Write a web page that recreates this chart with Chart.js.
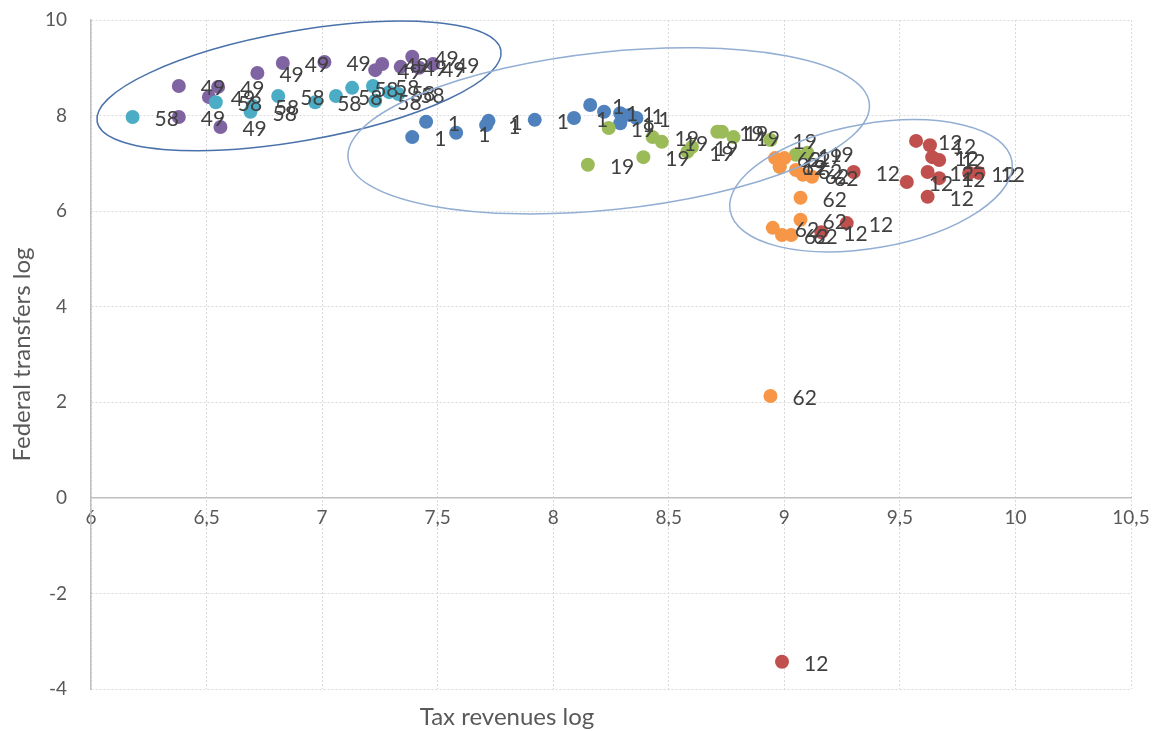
<!DOCTYPE html>
<html>
<head>
<meta charset="utf-8">
<script src="https://cdn.jsdelivr.net/npm/chart.js@4.4.1/dist/chart.umd.min.js"></script>
<style>
    html, body { margin: 0; padding: 0; background: #ffffff; }
    #wrap { width: 1153px; height: 731px; position: relative; }
</style>
</head>
<body>
<div id="wrap"><canvas id="scatterChart"></canvas></div>
<script>
// series labels, in drawing order
const seriesNames = ['1', '12', '19', '49', '58', '62'];

// tax revenues log (x) / federal transfers log (y) per series
const x1 = [7.39, 7.45, 7.58, 7.71, 7.72, 7.92, 8.09, 8.16, 8.22, 8.29, 8.29, 8.33, 8.36];
const y1 = [7.55, 7.87, 7.64, 7.80, 7.89, 7.91, 7.95, 8.22, 8.08, 8.05, 7.84, 8.01, 7.95];

const x12 = [9.57, 9.63, 9.64, 9.67, 9.62, 9.67, 9.53, 9.62, 9.80, 9.84, 9.30, 9.27, 9.16, 8.99];
const y12 = [7.47, 7.38, 7.13, 7.07, 6.82, 6.69, 6.61, 6.30, 6.80, 6.80, 6.82, 5.75, 5.56, -3.43];

const x19 = [8.15, 8.24, 8.39, 8.43, 8.47, 8.58, 8.60, 8.71, 8.73, 8.78, 8.94, 8.98, 9.05, 9.10];
const y19 = [6.97, 7.74, 7.13, 7.55, 7.45, 7.24, 7.34, 7.66, 7.66, 7.55, 7.49, 6.93, 7.18, 7.22];

const x49 = [6.38, 6.55, 6.51, 6.38, 6.56, 6.72, 6.83, 7.01, 7.23, 7.26, 7.34, 7.39, 7.42, 7.48];
const y49 = [8.62, 8.60, 8.39, 7.97, 7.76, 8.89, 9.10, 9.12, 8.95, 9.08, 9.02, 9.23, 9.00, 9.08];

const x58 = [6.18, 6.54, 6.69, 6.70, 6.81, 6.97, 7.06, 7.13, 7.22, 7.23, 7.29, 7.33];
const y58 = [7.97, 8.28, 8.08, 8.20, 8.41, 8.28, 8.41, 8.58, 8.62, 8.31, 8.49, 8.45];

const x62 = [8.96, 9.00, 8.98, 9.05, 9.08, 9.12, 9.07, 9.07, 8.95, 8.99, 9.03, 8.94];
const y62 = [7.11, 7.11, 6.93, 6.86, 6.76, 6.72, 6.28, 5.82, 5.65, 5.50, 5.50, 2.13];

const seriesX = [x1, x12, x19, x49, x58, x62];
const seriesY = [y1, y12, y19, y49, y58, y62];
const seriesColors = ['#4f81bd', '#c0504d', '#9bbb59', '#8064a2', '#4bacc6', '#f79646'];

const xTicks = [6, 6.5, 7, 7.5, 8, 8.5, 9, 9.5, 10, 10.5];
const yTicks = [-4, -2, 0, 2, 4, 6, 8, 10];

// hand-drawn grouping ellipses (centre in data units, half axes in axis units, tilt in degrees)
const groupEllipses = [
    { cx: 6.90, cy: 8.62, rx: 0.887, ry: 1.15, tilt: -10, color: '#4a72aa' },
    { cx: 8.24, cy: 7.68, rx: 1.134, ry: 1.65, tilt: -6, color: '#93aed3' },
    { cx: 9.375, cy: 6.53, rx: 0.619, ry: 1.30, tilt: -10, color: '#93aed3' }
];

const FONT = 'Lato, "Open Sans", sans-serif';

const datasets = seriesNames.map((name, i) => ({
    label: name,
    data: seriesX[i].map((x, j) => ({ x: x, y: seriesY[i][j] })),
    backgroundColor: seriesColors[i],
    borderColor: seriesColors[i],
    borderWidth: 0,
    pointRadius: 7,
    pointHoverRadius: 7,
    order: seriesNames.length - i
}));

const pointLabels = {
    id: 'pointLabels',
    afterDatasetsDraw(chart) {
        const ctx = chart.ctx;
        ctx.save();
        ctx.font = '21px ' + FONT;
        ctx.fillStyle = '#404040';
        ctx.textAlign = 'left';
        ctx.textBaseline = 'middle';
        chart.data.datasets.forEach((ds, i) => {
            chart.getDatasetMeta(i).data.forEach(pt => {
                ctx.fillText(ds.label, pt.x + 22, pt.y + 2);
            });
        });
        ctx.restore();
    }
};

const ellipses = {
    id: 'ellipses',
    afterDraw(chart) {
        const ctx = chart.ctx;
        const xs = chart.scales.x;
        const ys = chart.scales.y;
        const unitX = xs.getPixelForValue(1) - xs.getPixelForValue(0);
        const unitY = ys.getPixelForValue(0) - ys.getPixelForValue(1);
        ctx.save();
        ctx.lineWidth = 1.5;
        groupEllipses.forEach(e => {
            ctx.strokeStyle = e.color;
            ctx.beginPath();
            ctx.ellipse(xs.getPixelForValue(e.cx), ys.getPixelForValue(e.cy),
                e.rx * unitX, e.ry * unitY, e.tilt * Math.PI / 180, 0, Math.PI * 2);
            ctx.stroke();
        });
        ctx.restore();
    }
};

const axisTitles = {
    id: 'axisTitles',
    afterDraw(chart) {
        const ctx = chart.ctx;
        const area = chart.chartArea;
        ctx.save();
        ctx.font = '24px ' + FONT;
        ctx.fillStyle = '#595959';
        ctx.textAlign = 'center';
        ctx.textBaseline = 'middle';
        ctx.fillText('Tax revenues log', area.left + area.width * 0.4, chart.height - 14);
        ctx.translate(22, area.top + area.height * 0.5);
        ctx.rotate(-Math.PI / 2);
        ctx.fillText('Federal transfers log', 0, 0);
        ctx.restore();
    }
};

const commaTick = v => String(v).replace('.', ',');

// keep the tick labels from pushing the plot area around
const noOverflow = s => {
    s.paddingTop = 0;
    s.paddingBottom = 0;
    s.paddingLeft = 0;
    s.paddingRight = 0;
};

new Chart(document.getElementById('scatterChart'), {
    type: 'scatter',
    data: { datasets: datasets },
    options: {
        responsive: true,
        maintainAspectRatio: false,
        animation: false,
        layout: { padding: { left: 0, top: 20, right: 22, bottom: 42 } },
        plugins: {
            legend: { display: false },
            tooltip: { enabled: false }
        },
        scales: {
            x: {
                type: 'linear',
                position: { y: 0 },
                min: xTicks[0],
                max: xTicks[xTicks.length - 1],
                afterBuildTicks: s => { s.ticks = xTicks.map(v => ({ value: v })); },
                afterFit: s => { noOverflow(s); s.height = 0; },
                ticks: {
                    callback: commaTick,
                    color: '#595959',
                    font: { size: 19, family: FONT },
                    padding: 9,
                    maxRotation: 0
                },
                grid: { color: '#d9d9d9', lineWidth: 1, drawTicks: false },
                border: { color: '#bfbfbf', width: 1.5, dash: [2, 2] }
            },
            y: {
                type: 'linear',
                min: yTicks[0],
                max: yTicks[yTicks.length - 1],
                afterBuildTicks: s => { s.ticks = yTicks.map(v => ({ value: v })); },
                afterFit: s => { noOverflow(s); s.width = 91; },
                ticks: {
                    color: '#595959',
                    font: { size: 19, family: FONT },
                    padding: 24
                },
                grid: { color: '#d9d9d9', lineWidth: 1, drawTicks: false },
                border: { color: '#bfbfbf', width: 1.5, dash: [2, 2] }
            }
        }
    },
    plugins: [pointLabels, ellipses, axisTitles]
});
</script>
</body>
</html>
